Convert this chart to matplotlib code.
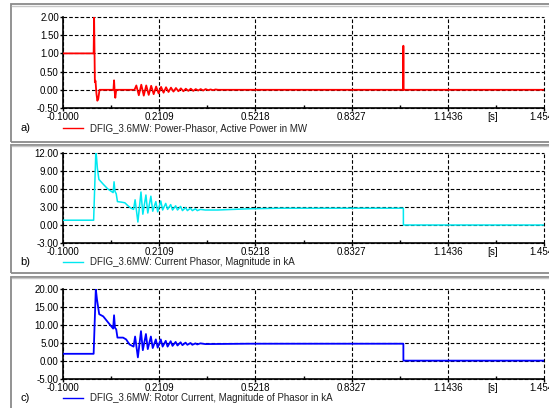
import matplotlib
import matplotlib.pyplot as plt
from matplotlib.lines import Line2D
from matplotlib.patches import Rectangle
from matplotlib.ticker import FormatStrFormatter, FixedLocator

matplotlib.use('Agg')

plt.rcParams['font.family'] = 'Liberation Sans'
plt.rcParams['font.size'] = 7.0
plt.rcParams['lines.scale_dashes'] = False

# time axis
x_ticks = [-0.1, 0.2109, 0.5218, 0.8327, 1.1436, 1.4545]
x_minor = [0.05545, 0.36635, 0.67725, 0.98815, 1.29905]

# a) active power in MW
t_power = [-0.1, -0.001, 0.0005, 0.003, 0.005, 0.008, 0.011, 0.014, 0.018,
           0.063, 0.065, 0.067, 0.069, 0.072,
           0.131, 0.137, 0.145, 0.153, 0.161, 0.169, 0.177, 0.185, 0.193,
           0.201, 0.209, 0.217, 0.225, 0.233, 0.241, 0.249, 0.257, 0.265,
           0.273, 0.281, 0.289, 0.297, 0.305, 0.313, 0.321, 0.329, 0.337,
           0.345, 0.353, 0.361, 0.369, 0.377, 0.385, 0.393, 0.401,
           0.9995, 1.0, 1.0005, 1.4545]
p_power = [1.0, 1.0, 2.0, 0.21, 0.25, -0.1, -0.30, -0.25, 0.0,
           0.0, 0.26, -0.05, -0.22, 0.0,
           0.0, 0.12, -0.15, 0.14, -0.16, 0.12, -0.14, 0.11, -0.12,
           0.09, -0.10, 0.08, -0.08, 0.07, -0.06, 0.06, -0.05, 0.05,
           -0.04, 0.04, -0.04, 0.03, -0.03, 0.03, -0.03, 0.02, -0.02,
           0.02, -0.02, 0.02, -0.01, 0.01, -0.01, 0.01, 0.0,
           0.0, 1.21, 0.0, 0.0]

# b) stator current magnitude in kA
t_curr = [-0.1, -0.001, 0.006, 0.008, 0.011, 0.016, 0.030, 0.045, 0.062,
          0.065, 0.068, 0.072, 0.076, 0.090, 0.100, 0.110, 0.120, 0.128,
          0.133, 0.142, 0.152, 0.158, 0.168, 0.174, 0.184, 0.190, 0.200,
          0.206, 0.216, 0.222, 0.232, 0.238, 0.248, 0.254, 0.264, 0.270,
          0.280, 0.286, 0.296, 0.302, 0.312, 0.318, 0.328, 0.334, 0.344,
          0.360, 0.400, 0.500, 0.600, 1.0, 1.0001, 1.4545]
i_curr = [0.8, 0.8, 12.0, 11.5, 9.5, 7.6, 6.8, 6.0, 5.4,
          7.2, 5.6, 5.2, 3.9, 3.8, 3.7, 3.2, 2.8, 2.6,
          4.2, 0.5, 5.5, 1.8, 5.0, 2.0, 4.8, 2.3, 3.9,
          2.2, 4.0, 2.5, 3.6, 2.6, 3.4, 2.5, 3.2, 2.5,
          3.1, 2.4, 2.9, 2.4, 2.8, 2.4, 2.7, 2.4, 2.6,
          2.5, 2.5, 2.7, 2.8, 2.8, 0.0, 0.0]

# c) rotor current magnitude in kA
t_rotor = [-0.1, -0.001, 0.006, 0.010, 0.017, 0.030, 0.045, 0.062,
           0.065, 0.068, 0.072, 0.076, 0.094, 0.104, 0.115, 0.128,
           0.133, 0.142, 0.152, 0.158, 0.168, 0.174, 0.184, 0.190, 0.200,
           0.206, 0.216, 0.222, 0.232, 0.238, 0.248, 0.254, 0.264, 0.270,
           0.280, 0.286, 0.296, 0.302, 0.312, 0.318, 0.328, 0.334, 0.344,
           0.360, 0.500, 1.0, 1.0001, 1.4545]
i_rotor = [2.0, 2.0, 20.0, 17.0, 13.0, 12.4, 10.8, 9.0,
           12.7, 9.2, 8.8, 6.5, 6.5, 6.0, 4.6, 4.0,
           6.8, 1.0, 8.3, 3.0, 7.5, 3.3, 6.8, 3.6, 6.0,
           3.7, 6.0, 4.0, 5.6, 4.0, 5.5, 4.2, 5.3, 4.3,
           5.2, 4.4, 5.1, 4.5, 5.0, 4.5, 4.9, 4.6, 4.9,
           4.7, 4.8, 4.8, 0.1, 0.1]

panels = [
    dict(t=t_power, y=p_power, color='#ff0000', lw=1.3,
         yticks=[-0.5, 0.0, 0.5, 1.0, 1.5, 2.0],
         legend='DFIG_3.6MW: Power-Phasor, Active Power in MW', tag='a)',
         ax_top=17, ax_bot=108, fr_top=4, fr_bot=141.5, leg_y=128),
    dict(t=t_curr, y=i_curr, color='#00e8f0', lw=1.1,
         yticks=[-3.0, 0.0, 3.0, 6.0, 9.0, 12.0],
         legend='DFIG_3.6MW: Current Phasor, Magnitude in kA', tag='b)',
         ax_top=153, ax_bot=243, fr_top=144.5, fr_bot=273, leg_y=262),
    dict(t=t_rotor, y=i_rotor, color='#0000ff', lw=1.3,
         yticks=[-5.0, 0.0, 5.0, 10.0, 15.0, 20.0],
         legend='DFIG_3.6MW: Rotor Current, Magnitude of Phasor in kA', tag='c)',
         ax_top=289, ax_bot=379, fr_top=276.5, fr_bot=430, leg_y=398),
]

W, H = 549, 408
fig = plt.figure(figsize=(W / 100, H / 100), dpi=100)

for p in panels:
    # grey panel frame
    fig.add_artist(Rectangle((10.5 / W, 1 - p['fr_bot'] / H), 1.2,
                             (p['fr_bot'] - p['fr_top']) / H,
                             transform=fig.transFigure, fill=False,
                             edgecolor='#8a8a8a', lw=1.3))
    fig.add_artist(Line2D([11.5 / W, 1], [1 - (p['fr_top'] + 1.5) / H] * 2,
                          transform=fig.transFigure, color='#c8c8c8', lw=1.0))

    ax = fig.add_axes([63 / W, 1 - p['ax_bot'] / H, 481 / W,
                       (p['ax_bot'] - p['ax_top']) / H])
    ax.plot(p['t'], p['y'], color=p['color'], lw=p['lw'], zorder=3)
    ax.set_xlim(x_ticks[0], x_ticks[-1])
    ax.set_ylim(p['yticks'][0], p['yticks'][-1])
    ax.set_xticks(x_ticks)
    ax.set_yticks(p['yticks'])
    ax.xaxis.set_minor_locator(FixedLocator(x_minor))
    ax.xaxis.set_major_formatter(FormatStrFormatter('%.4f'))
    ax.yaxis.set_major_formatter(FormatStrFormatter('%.2f'))
    ax.grid(True, which='major', color='black', lw=0.8, linestyle=(0, (2.6, 1.5)))
    for gl in ax.get_xgridlines() + ax.get_ygridlines():
        gl.set_clip_on(False)
    ax.spines['top'].set_visible(False)
    ax.spines['right'].set_visible(False)
    for s in ('left', 'bottom'):
        ax.spines[s].set_linewidth(1.2)
    ax.tick_params(axis='both', which='major', direction='out', length=2,
                   width=1, pad=1, labelsize=7.0)
    ax.tick_params(axis='x', which='minor', direction='in', length=2, width=1)

    fig.text(493 / W, 1 - (p['ax_bot'] + 9) / H, '[s]', ha='center', va='center')
    fig.add_artist(Line2D([63 / W, 83 / W], [1 - p['leg_y'] / H] * 2,
                          transform=fig.transFigure, color=p['color'], lw=1.0))
    fig.text(90 / W, 1 - p['leg_y'] / H, p['legend'], va='center', color='#222222')
    fig.text(20 / W, 1 - p['leg_y'] / H, p['tag'], va='center', fontsize=8.0)

fig.savefig('out.png', dpi=100)
